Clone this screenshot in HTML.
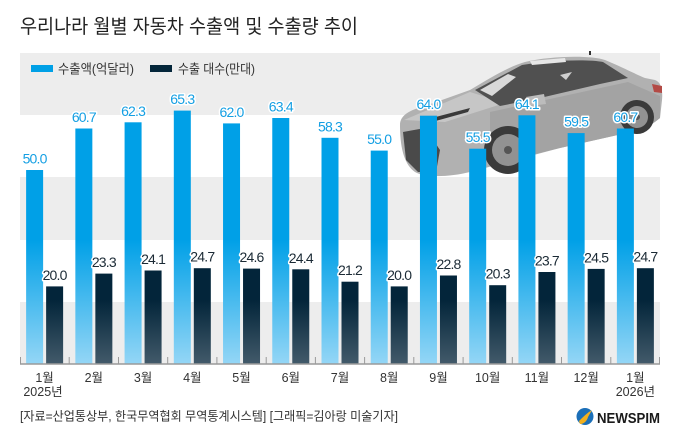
<!DOCTYPE html>
<html><head><meta charset="utf-8">
<style>
html,body{margin:0;padding:0;background:#fff;}
svg{display:block;}
text{font-family:"Liberation Sans","Noto Sans CJK KR",sans-serif;}
.bl{fill:#149fe3;font-size:14px;text-anchor:middle;stroke:#fff;stroke-width:3;paint-order:stroke;stroke-linejoin:round;letter-spacing:-0.8px;}
.dl{fill:#1b2a35;font-size:14px;text-anchor:middle;stroke:#fff;stroke-width:3;paint-order:stroke;stroke-linejoin:round;letter-spacing:-0.8px;}
.xl{fill:#333;font-size:12.5px;text-anchor:middle;}
</style></head>
<body>
<svg width="680" height="442" viewBox="0 0 680 442" xmlns="http://www.w3.org/2000/svg">
<defs>
<linearGradient id="gb" gradientUnits="userSpaceOnUse" x1="0" y1="240" x2="0" y2="364">
<stop offset="0" stop-color="#00a0e7"/><stop offset="1" stop-color="#94d6f6"/>
</linearGradient>
<linearGradient id="gd" gradientUnits="userSpaceOnUse" x1="0" y1="300" x2="0" y2="364">
<stop offset="0" stop-color="#03253a"/><stop offset="1" stop-color="#425a6a"/>
</linearGradient>
</defs>
<rect width="680" height="442" fill="#fff"/>
<!-- title -->
<text x="20" y="33" font-size="19.5" fill="#222" textLength="338" lengthAdjust="spacingAndGlyphs">우리나라 월별 자동차 수출액 및 수출량 추이</text>
<!-- bands -->
<rect x="20" y="53" width="640" height="62" fill="#ededed"/>
<rect x="20" y="177" width="640" height="63" fill="#ededed"/>
<rect x="20" y="302" width="640" height="62" fill="#ededed"/>
<!-- legend -->
<rect x="31" y="65" width="22" height="7" fill="#00a0e6"/>
<text x="58" y="73.5" font-size="13" fill="#333" textLength="76" lengthAdjust="spacingAndGlyphs">수출액(억달러)</text>
<rect x="150" y="65" width="22" height="7" fill="#04263a"/>
<text x="178" y="73.5" font-size="13" fill="#333" textLength="77" lengthAdjust="spacingAndGlyphs">수출 대수(만대)</text>

<!-- car -->
<g>
<path d="M400,125 C400,115 410,110 425,106 L470,90 C490,78 510,66 525,62 C550,56 590,55 605,60 C620,66 635,74 645,78 L655,80 C661,82 663,90 662,100 L660,118 C655,122 650,126 640,130 L560,148 L470,172 C450,177 425,178 415,172 C405,165 400,150 400,125 Z" fill="#b1b1b1"/>
<path d="M490,112 L628,82 L660,96 L660,118 C655,122 650,126 640,130 L560,148 L490,165 Z" fill="#a3a3a3"/>
<path d="M404,120 L470,92 L505,103 L445,122 Z" fill="#c6c6c6"/>
<path d="M475,90 L522,65 C550,60 590,59 603,62 L628,78 L600,84 L540,98 L500,106 Z" fill="#505050"/>
<path d="M480,90 L508,74 L516,77 L492,96 Z" fill="#d9d9d9"/>
<path d="M530,61 L565,58 L566,62 L532,65 Z" fill="#e6e6e6"/>
<path d="M560,75 L572,72 L566,80 Z" fill="#cfcfcf"/>
<path d="M403,132 L425,128 L440,150 L436,172 L418,172 L406,160 Z" fill="#4a4a4a"/>
<path d="M428,119 L470,108 L468,112 L432,122 Z" fill="#3a3a3a"/>
<path d="M526,97 L544,94 L546,104 L530,106 Z" fill="#bcbcbc"/>
<path d="M652,84 L662,86 L662,93 L654,92 Z" fill="#b34a45"/>
<circle cx="508" cy="150" r="24" fill="#3a3a3a"/>
<circle cx="508" cy="150" r="16" fill="#929292"/>
<circle cx="508" cy="150" r="4" fill="#555"/>
<circle cx="637" cy="117" r="17" fill="#3a3a3a"/>
<circle cx="637" cy="117" r="11" fill="#929292"/>
<circle cx="637" cy="117" r="3" fill="#555"/>
<line x1="590" y1="55" x2="590" y2="51" stroke="#333" stroke-width="2"/>
</g>

<!-- bars: blue -->
<g fill="url(#gb)">
<rect x="26.12" y="170.0" width="17" height="194"/>
<rect x="75.35" y="128.5" width="17" height="235.5"/>
<rect x="124.58" y="122.3" width="17" height="241.7"/>
<rect x="173.81" y="110.6" width="17" height="253.4"/>
<rect x="223.04" y="123.4" width="17" height="240.6"/>
<rect x="272.27" y="118.0" width="17" height="246"/>
<rect x="321.5" y="137.8" width="17" height="226.2"/>
<rect x="370.73" y="150.6" width="17" height="213.4"/>
<rect x="419.96" y="115.7" width="17" height="248.3"/>
<rect x="469.19" y="148.7" width="17" height="215.3"/>
<rect x="518.42" y="115.3" width="17" height="248.7"/>
<rect x="567.65" y="133.1" width="17" height="230.9"/>
<rect x="616.88" y="128.5" width="17" height="235.5"/>
</g>
<!-- bars: dark -->
<g fill="url(#gd)">
<rect x="46.12" y="286.4" width="17" height="77.6"/>
<rect x="95.35" y="273.6" width="17" height="90.4"/>
<rect x="144.58" y="270.5" width="17" height="93.5"/>
<rect x="193.81" y="268.2" width="17" height="95.8"/>
<rect x="243.04" y="268.6" width="17" height="95.4"/>
<rect x="292.27" y="269.3" width="17" height="94.7"/>
<rect x="341.5" y="281.7" width="17" height="82.3"/>
<rect x="390.73" y="286.4" width="17" height="77.6"/>
<rect x="439.96" y="275.5" width="17" height="88.5"/>
<rect x="489.19" y="285.2" width="17" height="78.8"/>
<rect x="538.42" y="272.0" width="17" height="92"/>
<rect x="587.65" y="268.9" width="17" height="95.1"/>
<rect x="636.88" y="268.2" width="17" height="95.8"/>
</g>

<!-- blue labels -->
<text class="bl" x="34.6" y="163.5">50.0</text>
<text class="bl" x="83.85" y="122">60.7</text>
<text class="bl" x="133.1" y="115.8">62.3</text>
<text class="bl" x="182.3" y="104.1">65.3</text>
<text class="bl" x="231.5" y="116.9">62.0</text>
<text class="bl" x="280.8" y="111.5">63.4</text>
<text class="bl" x="330.0" y="131.3">58.3</text>
<text class="bl" x="379.2" y="144.1">55.0</text>
<text class="bl" x="428.5" y="109.2">64.0</text>
<text class="bl" x="477.7" y="142.2">55.5</text>
<text class="bl" x="526.9" y="108.8">64.1</text>
<text class="bl" x="576.2" y="126.6">59.5</text>
<text class="bl" x="625.4" y="122">60.7</text>

<!-- dark labels -->
<text class="dl" x="54.6" y="279.9">20.0</text>
<text class="dl" x="103.85" y="267.1">23.3</text>
<text class="dl" x="153.1" y="264">24.1</text>
<text class="dl" x="202.3" y="261.7">24.7</text>
<text class="dl" x="251.5" y="262.1">24.6</text>
<text class="dl" x="300.8" y="262.8">24.4</text>
<text class="dl" x="350.0" y="275.2">21.2</text>
<text class="dl" x="399.2" y="279.9">20.0</text>
<text class="dl" x="448.5" y="269">22.8</text>
<text class="dl" x="497.7" y="278.7">20.3</text>
<text class="dl" x="546.9" y="265.5">23.7</text>
<text class="dl" x="596.2" y="262.4">24.5</text>
<text class="dl" x="645.4" y="261.7">24.7</text>

<!-- axis -->
<line x1="20" y1="364" x2="660" y2="364" stroke="#9a9a9a" stroke-width="1.5"/>
<g stroke="#9a9a9a" stroke-width="1">
<line x1="20.5" y1="357" x2="20.5" y2="364"/>
<line x1="69.2" y1="357" x2="69.2" y2="364"/>
<line x1="118.5" y1="357" x2="118.5" y2="364"/>
<line x1="167.7" y1="357" x2="167.7" y2="364"/>
<line x1="216.9" y1="357" x2="216.9" y2="364"/>
<line x1="266.2" y1="357" x2="266.2" y2="364"/>
<line x1="315.4" y1="357" x2="315.4" y2="364"/>
<line x1="364.6" y1="357" x2="364.6" y2="364"/>
<line x1="413.8" y1="357" x2="413.8" y2="364"/>
<line x1="463.1" y1="357" x2="463.1" y2="364"/>
<line x1="512.3" y1="357" x2="512.3" y2="364"/>
<line x1="561.5" y1="357" x2="561.5" y2="364"/>
<line x1="610.8" y1="357" x2="610.8" y2="364"/>
<line x1="659.5" y1="357" x2="659.5" y2="364"/>
</g>

<!-- x labels -->
<text class="xl" x="44.6" y="382">1월</text>
<text class="xl" x="43" y="396">2025년</text>
<text class="xl" x="93.85" y="382">2월</text>
<text class="xl" x="143.1" y="382">3월</text>
<text class="xl" x="192.3" y="382">4월</text>
<text class="xl" x="241.5" y="382">5월</text>
<text class="xl" x="290.8" y="382">6월</text>
<text class="xl" x="340.0" y="382">7월</text>
<text class="xl" x="389.2" y="382">8월</text>
<text class="xl" x="438.5" y="382">9월</text>
<text class="xl" x="487.7" y="382">10월</text>
<text class="xl" x="536.9" y="382">11월</text>
<text class="xl" x="586.2" y="382">12월</text>
<text class="xl" x="635.4" y="382">1월</text>
<text class="xl" x="635.4" y="396">2026년</text>

<!-- source -->
<text x="20" y="420.5" font-size="12.5" fill="#333" textLength="378" lengthAdjust="spacingAndGlyphs">[자료=산업통상부, 한국무역협회 무역통계시스템] [그래픽=김아랑 미술기자]</text>

<!-- logo -->
<circle cx="585" cy="416.5" r="8.5" fill="#1b6fb8"/>
<path d="M579,421 C583,417 587,413 592,410 L588,417 C587,421 584,424 580,424 Z" fill="#f2b01e"/>
<text x="597" y="423" font-size="15" font-weight="bold" fill="#1a1a1a" textLength="63" lengthAdjust="spacingAndGlyphs" style="font-family:'Liberation Sans',sans-serif">NEWSPIM</text>
</svg>
</body></html>
